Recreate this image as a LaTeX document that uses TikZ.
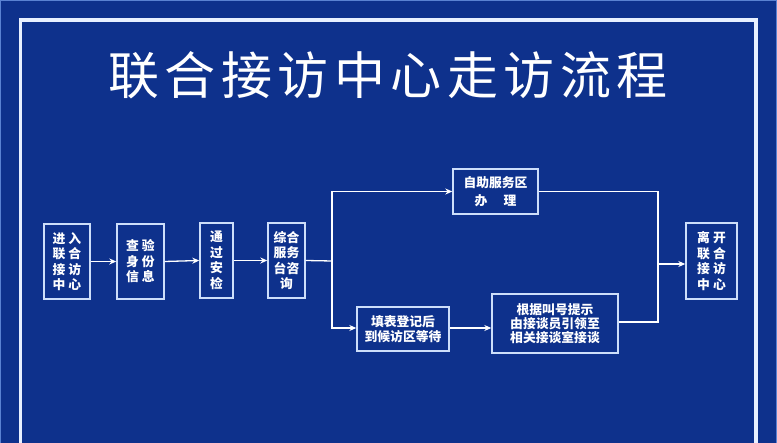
\documentclass[tikz,border=0pt]{standalone}
\usepackage{fontspec}
\newfontfamily\cjk{Noto Sans CJK SC}
\usetikzlibrary{arrows.meta}
\definecolor{bg}{RGB}{14,49,140}
\definecolor{boxline}{RGB}{205,222,250}
\definecolor{framecol}{RGB}{232,240,255}
\definecolor{edgecol}{RGB}{90,130,210}
\newcommand{\gp}{\hspace{3pt}}
\newcommand{\tg}{\hspace{5.5pt}}
\begin{document}
\begin{tikzpicture}[x=1pt,y=-1pt,
  box/.style={draw=boxline, line width=1.4pt, fill=bg, inner sep=0pt, align=center,
    font=\cjk\bfseries\fontsize{12.8}{15.5}\selectfont, text=white},
  conn/.style={draw=white, line width=1.3pt},
  arr/.style={conn, -{Stealth[length=7pt,width=6pt]}},
  titlefont/.style={font=\cjk\fontsize{51}{56}\selectfont, inner sep=0pt}]
\fill[bg] (0,0) rectangle (777,443);
\useasboundingbox (0,0) rectangle (777,443);
\draw[edgecol, line width=1pt] (0.5,443) -- (0.5,0.5) -- (776.5,0.5) -- (776.5,443);
\draw[framecol, line width=3.5pt] (20.5,450) -- (20.5,20) -- (756,20) -- (756,450);
% title
\node[titlefont, text=white] (title) at (388,75) {联\tg 合\tg 接\tg 访\tg 中\tg 心\tg 走\tg 访\tg 流\tg 程};
% boxes
\node[box, minimum width=46pt, minimum height=75pt] (b1) at (67,261.5) {进\gp 入\\联\gp 合\\接\gp 访\\中\gp 心};
\node[box, minimum width=47pt, minimum height=75pt] (b2) at (140.5,261.5) {查\gp 验\\身\gp 份\\信\gp 息};
\node[box, minimum width=33pt, minimum height=75pt] (b3) at (216.5,260.5) {通\\过\\安\\检};
\node[box, minimum width=37pt, minimum height=75pt] (b4) at (286.5,260.5) {综合\\服务\\台咨\\询};
\node[box, minimum width=85pt, minimum height=45pt] (b5) at (495.5,191.5) {自助服务区\\[2.5pt]办\hspace{16pt}理};
\node[box, minimum width=92pt, minimum height=44pt] (b6) at (403,329) {填表登记后\\到候访区等待};
\node[box, minimum width=126pt, minimum height=59pt, font=\cjk\bfseries\fontsize{12.8}{14}\selectfont] (b7) at (555,323.5) {根据叫号提示\\由接谈员引领至\\相关接谈室接谈};
\node[box, minimum width=51pt, minimum height=76pt] (b8) at (711.5,261) {离\gp 开\\联\gp 合\\接\gp 访\\中\gp 心};
% connectors
\coordinate (split) at (332,261);
\coordinate (merge) at (658,264);
\draw[arr] (b1.east) -- (b2.west);
\draw[arr] (b2.east) -- (b3.west);
\draw[arr] (b3.east) -- (b4.west);
\draw[conn] (b4.east) -- (split);
\draw[arr] (split) |- (b5.west);
\draw[arr] (split) |- ([yshift=1pt]b6.west);
\draw[arr] ([yshift=1pt]b6.east) -- ([yshift=1pt]b6.east -| b7.west);
\draw[conn] (b5.east) -| (merge);
\draw[conn] ([yshift=1.5pt]b7.east) -| (merge);
\draw[arr] (merge) -- (merge -| b8.west);
\end{tikzpicture}
\end{document}
